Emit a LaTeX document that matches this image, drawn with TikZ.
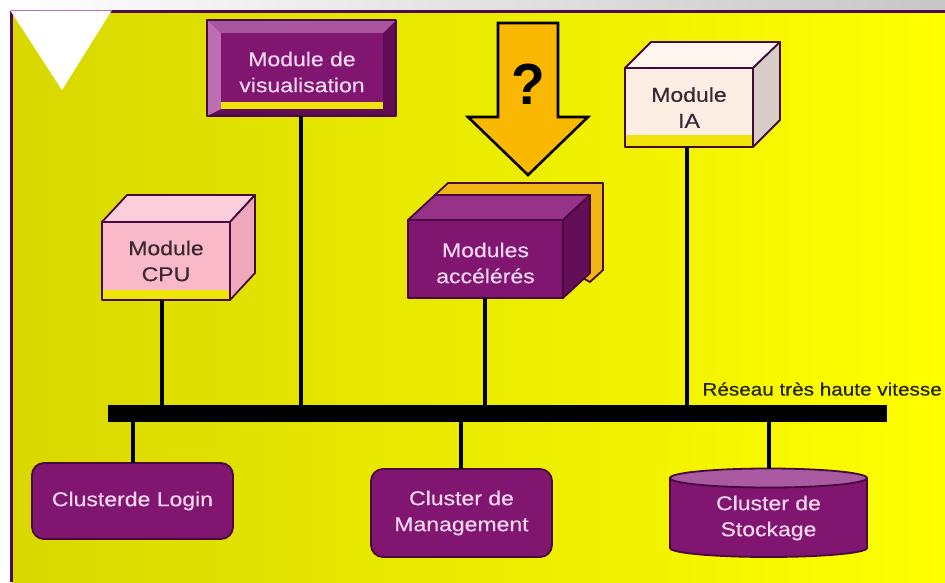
\documentclass[tikz,border=0pt]{standalone}
\usepackage{fontspec}
\setmainfont{Liberation Sans}[FakeStretch=1.15,FakeBold=0.3]
\newfontfamily\qmarkfont{Liberation Sans}[FakeStretch=0.95]
\usetikzlibrary{calc}
\definecolor{bgleft}{RGB}{216,216,0}
\definecolor{bgright}{RGB}{255,255,0}
\definecolor{framepurple}{RGB}{80,10,70}
\definecolor{edgepurple}{RGB}{70,10,60}
\definecolor{mainpurple}{RGB}{128,22,112}
\definecolor{lightbevel}{RGB}{170,85,160}
\definecolor{leftbevel}{RGB}{190,110,180}
\definecolor{darkbevel}{RGB}{95,12,85}
\definecolor{accside}{RGB}{100,14,88}
\definecolor{acctop}{RGB}{150,50,135}
\definecolor{lighttext}{RGB}{242,215,238}
\definecolor{darktext}{RGB}{55,40,50}
\definecolor{cpufront}{RGB}{250,185,200}
\definecolor{cputop}{RGB}{252,205,218}
\definecolor{cpuside}{RGB}{238,168,188}
\definecolor{iafront}{RGB}{253,238,228}
\definecolor{iatop}{RGB}{255,246,240}
\definecolor{iaside}{RGB}{215,205,200}
\definecolor{stripe}{RGB}{238,228,10}
\definecolor{arroworange}{RGB}{250,185,0}
\definecolor{orangebox}{RGB}{240,180,20}
\definecolor{cyltop}{RGB}{170,90,160}
\definecolor{labeltext}{RGB}{35,35,0}
\newcommand{\mybxfont}{\fontsize{20}{26}\selectfont}
\begin{document}
\begin{tikzpicture}[x=1pt,y=-1pt,
  edge/.style={draw=edgepurple, line width=1.8pt, line join=round},
  face/.style={edge, outer sep=0pt, inner sep=0pt, align=center, font=\mybxfont},
  btext/.style={align=center, font=\mybxfont, inner sep=0pt},
  link/.style={line width=3.8pt, black},
  cluster/.style={face, fill=mainpurple, text=lighttext, rounded corners=12pt}
]
\useasboundingbox (0,0) rectangle (945,582);
% background
\shade[left color=white, middle color=white, right color=black!22] (0,0) rectangle (945,12);
\shade[left color=bgleft, right color=bgright] (12,12) rectangle (945,582);
\draw[line width=3pt, framepurple] (11.5,582) -- (11.5,11.5) -- (945,11.5);
\fill[white] (10,10) -- (112,10) -- (62,90) -- cycle;
\draw[line width=0.8pt, leftbevel] (11,10.6) -- (112,10.6);

% ---- Module de visualisation (bevelled frame)
\fill[darkbevel] (207,20) rectangle (396,116);
\fill[lightbevel] (207,20) -- (396,20) -- (383,33) -- (221,33) -- cycle;
\fill[leftbevel] (207,20) -- (221,33) -- (221,109) -- (207,116) -- cycle;
\fill[mainpurple] (221,33) rectangle (383,109);
\fill[stripe] (221,102) rectangle (383,109);
\node[face, fill=none, minimum width=189pt, minimum height=96pt] (vis) at (301.5,68) {};
\node[btext, text=lighttext] (vistext) at (302,72) {Module de\\visualisation};

% ---- Arrow with question mark
\draw[fill=arroworange, line width=2.6pt, line join=miter] (498,23) -- (558,23) -- (558,117) -- (588,117)
   -- (528,175) -- (468,117) -- (498,117) -- cycle;
\node[inner sep=0pt, font=\qmarkfont\bfseries\fontsize{58}{60}\selectfont] (qmark) at (528,84) {?};

% ---- Module CPU (3D box)
\filldraw[edge, fill=cputop] (102,222) -- (127,195) -- (255,195) -- (230,222) -- cycle;
\filldraw[edge, fill=cpuside] (230,222) -- (255,195) -- (255,273) -- (230,300) -- cycle;
\node[face, fill=cpufront, text=darktext, minimum width=128pt, minimum height=78pt] (cpu) at (166,261) {Module\\CPU};
\fill[stripe] (103,290) rectangle (229,299.2);

% ---- Module IA (3D box)
\filldraw[edge, fill=iatop] (625,68) -- (651,42) -- (780,42) -- (753,68) -- cycle;
\filldraw[edge, fill=iaside] (753,68) -- (780,42) -- (780,120) -- (753,147) -- cycle;
\node[face, fill=iafront, text=darktext, minimum width=128pt, minimum height=79pt] (ia) at (689,107.5) {Module\\IA};
\fill[stripe] (626,135) rectangle (752,146.2);

% ---- Modules accélérés (3D box with orange box behind)
\filldraw[edge, fill=orangebox] (448,183) -- (603,183) -- (603,270) -- (590,282) -- (435,195) -- cycle;
\filldraw[edge, fill=acctop] (408,220) -- (435,195) -- (590,195) -- (563,220) -- cycle;
\filldraw[edge, fill=accside] (563,220) -- (590,195) -- (590,273) -- (563,298) -- cycle;
\node[face, fill=mainpurple, text=lighttext, minimum width=155pt, minimum height=78pt] (acc) at (485.5,259) {};
\node[btext, text=lighttext] (acctext) at (485.5,263) {Modules\\accélérés};

% ---- Bus
\node[fill=black, minimum width=779pt, minimum height=17pt, inner sep=0pt, outer sep=0pt] (bus) at (497.5,413.5) {};
\node[anchor=east, inner sep=0pt, text=labeltext, font=\fontsize{18}{20}\selectfont] (buslabel) at (942,389) {Réseau très haute vitesse};

% ---- Lower clusters
\node[cluster, minimum width=201pt, minimum height=76pt] (login) at (132.5,501) {Clusterde Login};
\node[cluster, minimum width=181pt, minimum height=88pt] (mgmt) at (461.5,513) {Cluster de\\Management};
\path[edge, fill=mainpurple] (670,478) -- (670,548) arc[start angle=180, end angle=0, x radius=98.5, y radius=9] -- (867,478) -- cycle;
\draw[edge, fill=cyltop] (768.5,478) ellipse [x radius=98.5, y radius=9.5];
\node[btext, text=lighttext, minimum width=197pt, minimum height=88pt] (stock) at (768.5,513) {};
\node[btext, text=lighttext] (stocktext) at (768.5,518) {Cluster de\\Stockage};

% ---- Connectors
\draw[link] ([xshift=-4pt]cpu.south) -- ([xshift=-4pt]cpu.south |- bus.center);
\draw[link] ([xshift=-0.5pt]vis.south) -- ([xshift=-0.5pt]vis.south |- bus.center);
\draw[link] ([xshift=-0.5pt]acc.south) -- ([xshift=-0.5pt]acc.south |- bus.center);
\draw[link] ([xshift=-2pt]ia.south) -- ([xshift=-2pt]ia.south |- bus.center);
\draw[link] ([xshift=0.5pt]login.north) -- ([xshift=0.5pt]login.north |- bus.center);
\draw[link] ([xshift=-0.5pt]mgmt.north) -- ([xshift=-0.5pt]mgmt.north |- bus.center);
\draw[link] ([xshift=0.5pt]stock.north) -- ([xshift=0.5pt]stock.north |- bus.center);
\end{tikzpicture}
\end{document}
